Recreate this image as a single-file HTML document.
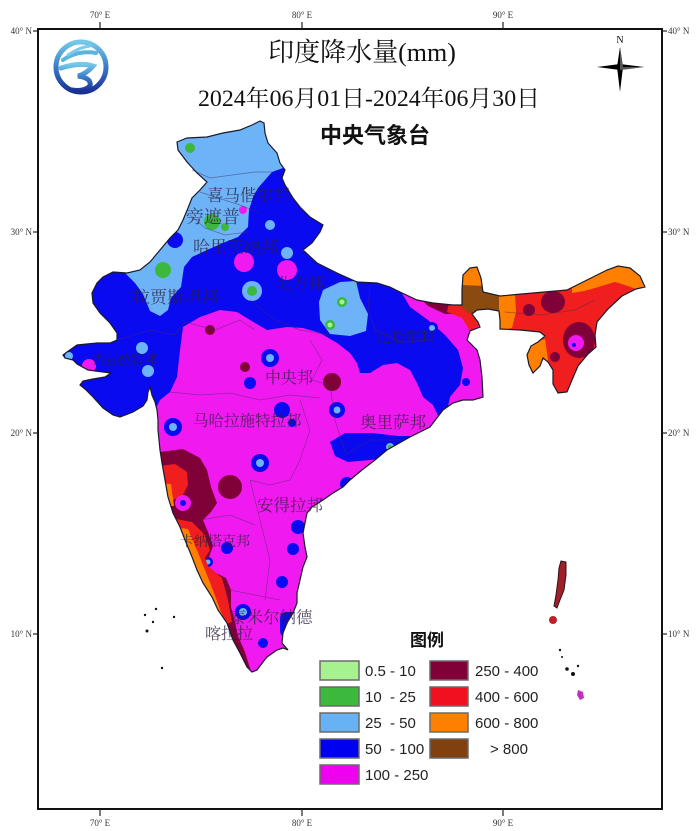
<!DOCTYPE html>
<html>
<head>
<meta charset="utf-8">
<style>
html,body{margin:0;padding:0;background:#fff;}
svg{display:block;}
.tk{font-family:"Liberation Serif","DejaVu Serif",serif;font-size:9px;fill:#333;}
.lb{font-family:"Liberation Serif","Noto Serif CJK SC",serif;fill:#2d1f3d;opacity:0.8;}
.lg{font-family:"Liberation Sans",sans-serif;font-size:15px;fill:#222;white-space:pre;}
</style>
</head>
<body>
<svg width="700" height="831" viewBox="0 0 700 831" xmlns="http://www.w3.org/2000/svg">
<defs>
<linearGradient id="lgLogo" x1="0" y1="0" x2="0" y2="1">
<stop offset="0" stop-color="#74c8e8"/>
<stop offset="0.5" stop-color="#3a7cc8"/>
<stop offset="1" stop-color="#1a2f94"/>
</linearGradient>
<clipPath id="india">
<path id="indiaPath" d="M177,142 L187,138 L207,137 L223,133 L240,130 L252,125 L260,121 L264,123 L265,133 L268,143 L277,153 L280,163 L285,170 L282,178 L285,185 L293,198 L300,207 L310,217 L323,225 L320,232 L312,243 L303,250 L317,263 L337,273 L357,282 L377,283 L390,287 L400,292 L417,300 L433,303 L453,305 L462,305 L462,290 L463,275 L470,268 L477,267 L481,278 L483,292 L500,296 L533,293 L567,290 L587,280 L607,270 L618,266 L630,268 L640,276 L645,287 L636,289 L622,296 L608,309 L597,322 L595,335 L596,347 L588,354 L578,366 L572,380 L567,392 L558,393 L553,384 L553,370 L548,362 L543,358 L540,366 L533,373 L529,365 L527,355 L531,346 L538,342 L545,336 L540,332 L520,330 L500,329 L500,320 L499,311 L488,309 L477,310 L472,314 L478,322 L480,327 L470,331 L467,340 L477,350 L480,360 L482,377 L483,397 L473,400 L463,400 L453,403 L443,410 L430,427 L410,437 L387,450 L375,460 L362,470 L350,480 L343,487 L333,493 L323,500 L312,507 L307,513 L305,523 L303,533 L305,547 L307,557 L303,567 L300,580 L297,593 L297,603 L293,613 L287,623 L283,633 L282,643 L288,650 L283,648 L277,650 L267,657 L263,662 L257,670 L252,672 L247,667 L240,653 L233,640 L227,623 L218,610 L212,597 L203,583 L197,570 L192,557 L185,540 L180,527 L173,513 L168,497 L165,480 L162,463 L160,450 L159,440 L158,430 L158,420 L157,410 L155,402 L152,395 L150,387 L148,392 L147,400 L143,406 L133,412 L120,417 L113,415 L103,408 L93,397 L85,389 L80,385 L83,381 L93,379 L105,377 L111,373 L103,372 L88,370 L77,364 L73,360 L65,358 L63,355 L67,352 L77,345 L97,343 L110,343 L117,340 L117,333 L110,323 L100,313 L93,303 L92,293 L97,283 L103,277 L113,272 L127,273 L140,270 L150,262 L160,250 L170,238 L178,230 L183,220 L188,208 L192,198 L200,190 L207,182 L197,173 L187,162 L178,150 Z"/>
</clipPath>
</defs>

<!-- frame -->
<rect x="38" y="29" width="624" height="780" fill="#fff" stroke="#111" stroke-width="2"/>

<!-- ticks -->
<g stroke="#222" stroke-width="1.2">
<line x1="100" y1="22" x2="100" y2="29"/><line x1="302" y1="22" x2="302" y2="29"/><line x1="503" y1="22" x2="503" y2="29"/>
<line x1="100" y1="809" x2="100" y2="816"/><line x1="302" y1="809" x2="302" y2="816"/><line x1="503" y1="809" x2="503" y2="816"/>
<line x1="33" y1="31" x2="38" y2="31"/><line x1="33" y1="232" x2="38" y2="232"/><line x1="33" y1="433" x2="38" y2="433"/><line x1="33" y1="634" x2="38" y2="634"/>
<line x1="662" y1="31" x2="667" y2="31"/><line x1="662" y1="232" x2="667" y2="232"/><line x1="662" y1="433" x2="667" y2="433"/><line x1="662" y1="634" x2="667" y2="634"/>
</g>
<g class="tk">
<text x="100" y="18" text-anchor="middle">70° E</text>
<text x="302" y="18" text-anchor="middle">80° E</text>
<text x="503" y="18" text-anchor="middle">90° E</text>
<text x="100" y="826" text-anchor="middle">70° E</text>
<text x="302" y="826" text-anchor="middle">80° E</text>
<text x="503" y="826" text-anchor="middle">90° E</text>
<text x="32" y="34" text-anchor="end">40° N</text>
<text x="32" y="235" text-anchor="end">30° N</text>
<text x="32" y="436" text-anchor="end">20° N</text>
<text x="32" y="637" text-anchor="end">10° N</text>
<text x="668" y="34">40° N</text>
<text x="668" y="235">30° N</text>
<text x="668" y="436">20° N</text>
<text x="668" y="637">10° N</text>
</g>

<!-- logo -->
<g>
<circle cx="81" cy="67" r="25" fill="none" stroke="url(#lgLogo)" stroke-width="5"/>
<path d="M63,60 Q78,50 96,53" fill="none" stroke="#5ab4e0" stroke-width="4" stroke-linecap="round"/>
<path d="M68,55 Q80,47 90,46" fill="none" stroke="#7ccbe8" stroke-width="3" stroke-linecap="round"/>
<path d="M61,68 Q80,62 93,66 Q86,74 78,76 Q92,78 90,86 Q84,92 72,90" fill="none" stroke="url(#lgLogo)" stroke-width="5" stroke-linecap="round"/>
</g>

<!-- titles -->
<text x="362" y="61" text-anchor="middle" font-family="'Liberation Serif','Noto Serif CJK SC',serif" font-size="26" fill="#111">印度降水量(mm)</text>
<text x="198" y="106" textLength="342" lengthAdjust="spacingAndGlyphs" font-family="'Liberation Serif','Noto Serif CJK SC',serif" font-size="23" fill="#111">2024年06月01日-2024年06月30日</text>
<text x="375" y="143" text-anchor="middle" font-family="'Liberation Sans','Noto Sans CJK SC',sans-serif" font-size="22" font-weight="bold" fill="#111">中央气象台</text>

<!-- north arrow -->
<text x="620" y="43" text-anchor="middle" font-family="'Liberation Serif',serif" font-size="10" fill="#111">N</text>
<path d="M620,47 L623,67 L620,92 L617,67 Z" fill="#000"/>
<path d="M597,67 L620,64 L644,67 L620,70 Z" fill="#000"/>
<path d="M620,47 L623,67 L620,67 Z M644,67 L620,70 L620,67 Z" fill="#555"/>

<!-- map fills -->
<g clip-path="url(#india)">
<rect x="40" y="100" width="620" height="600" fill="#f01af0"/>
<!-- north blue -->
<path d="M0,0 L400,0 L400,290 L410,307 L428,320 L445,335 L458,350 L463,368 L460,385 L450,397 L445,420 L440,420 L433,405 L423,397 L417,383 L410,370 L397,363 L383,365 L370,373 L360,373 L357,363 L350,353 L337,343 L320,333 L303,328 L287,327 L267,330 L250,320 L237,312 L220,310 L200,317 L183,327 L180,350 L177,377 L170,392 L160,400 L150,420 L0,420 Z" fill="#0a0af0"/>
<!-- light blue north -->
<path d="M150,100 L290,100 L290,163 L283,168 L272,172 L265,180 L258,188 L253,197 L249,210 L248,227 L238,237 L223,243 L207,250 L192,257 L184,267 L181,287 L171,298 L168,310 L160,316 L150,311 L143,294 L135,283 L128,276 L120,268 L100,250 L100,100 Z" fill="#6db3f8"/>
<circle cx="175" cy="240" r="8" fill="#0a0af0"/>
<circle cx="190" cy="148" r="5" fill="#3cb83c"/>
<circle cx="212" cy="222" r="8" fill="#3cb83c"/>
<circle cx="225" cy="227" r="4" fill="#3cb83c"/>
<circle cx="163" cy="270" r="8" fill="#3cb83c"/>
<circle cx="243" cy="210" r="4" fill="#f01af0"/>
<!-- blobs in north blue -->
<circle cx="244" cy="262" r="10" fill="#f01af0"/>
<circle cx="287" cy="270" r="10" fill="#f01af0"/>
<circle cx="252" cy="291" r="10" fill="#6db3f8"/><circle cx="252" cy="291" r="5" fill="#3cb83c"/>
<circle cx="270" cy="225" r="5" fill="#6db3f8"/>
<circle cx="287" cy="253" r="6" fill="#6db3f8"/>
<circle cx="142" cy="348" r="6" fill="#6db3f8"/>
<circle cx="148" cy="371" r="6" fill="#6db3f8"/>
<circle cx="89" cy="366" r="7" fill="#f01af0"/>
<circle cx="69" cy="356" r="4" fill="#6db3f8"/>
<!-- UP light-blue blob -->
<path d="M323,290 L340,282 L356,281 L360,298 L368,314 L366,331 L350,336 L330,334 L320,320 L319,302 Z" fill="#6db3f8"/>
<circle cx="342" cy="302" r="5" fill="#3cb83c"/><circle cx="342" cy="302" r="2.5" fill="#a6f28f"/>
<circle cx="330" cy="325" r="5" fill="#3cb83c"/><circle cx="330" cy="325" r="2.5" fill="#a6f28f"/>
<circle cx="432" cy="328" r="6" fill="#0a0af0"/><circle cx="432" cy="328" r="3" fill="#6db3f8"/>
<!-- WB north strip -->
<path d="M418,296 L450,300 L460,304 L462,314 L445,314 L428,306 Z" fill="#800038"/>
<path d="M450,299 L466,303 L480,325 L470,331 L462,318 L447,312 Z" fill="#f01e1e"/>
<circle cx="466" cy="382" r="4" fill="#0a0af0"/>
<!-- blobs in magenta -->
<circle cx="270" cy="358" r="9" fill="#0a0af0"/><circle cx="270" cy="358" r="4" fill="#6db3f8"/>
<circle cx="250" cy="383" r="6" fill="#0a0af0"/>
<circle cx="245" cy="367" r="5" fill="#800038"/>
<circle cx="210" cy="330" r="5" fill="#800038"/>
<circle cx="332" cy="382" r="9" fill="#800038"/>
<circle cx="337" cy="410" r="8" fill="#0a0af0"/><circle cx="337" cy="410" r="3.5" fill="#6db3f8"/>
<circle cx="282" cy="410" r="8" fill="#0a0af0"/>
<circle cx="292" cy="423" r="4" fill="#0a0af0"/>
<circle cx="173" cy="427" r="9" fill="#0a0af0"/><circle cx="173" cy="427" r="4" fill="#6db3f8"/>
<path d="M330,442 L345,433 L372,433 L398,436 L412,436 L405,448 L392,457 L370,460 L348,462 L335,456 Z" fill="#0a0af0"/>
<circle cx="390" cy="447" r="4" fill="#6db3f8"/><circle cx="390" cy="447" r="2" fill="#3cb83c"/>
<circle cx="260" cy="463" r="9" fill="#0a0af0"/><circle cx="260" cy="463" r="4" fill="#6db3f8"/>
<circle cx="347" cy="484" r="7" fill="#0a0af0"/>
<circle cx="298" cy="527" r="7" fill="#0a0af0"/>
<circle cx="293" cy="549" r="6" fill="#0a0af0"/>
<circle cx="227" cy="548" r="6" fill="#0a0af0"/>
<circle cx="208" cy="562" r="5" fill="#0a0af0"/><circle cx="208" cy="562" r="2.5" fill="#6db3f8"/>
<circle cx="282" cy="582" r="6" fill="#0a0af0"/>
<circle cx="243" cy="612" r="8" fill="#0a0af0"/><circle cx="243" cy="612" r="4" fill="#6db3f8"/>
<rect x="280" y="612" width="22" height="25" rx="6" fill="#0a0af0"/>
<circle cx="263" cy="643" r="5" fill="#0a0af0"/>
<!-- west coast -->
<path d="M140,450 L160,452 L183,449 L200,458 L207,470 L211,487 L217,503 L211,512 L203,520 L208,532 L213,546 L209,557 L202,563 L214,572 L226,578 L231,590 L231,607 L235,622 L238,636 L245,652 L252,675 L230,680 L140,680 Z" fill="#800038"/>
<circle cx="230" cy="487" r="12" fill="#800038"/>
<path d="M160,466 L175,464 L187,472 L188,485 L182,497 L172,500 L160,498 Z" fill="#f01e1e"/>
<path d="M158,483 L171,484 L174,506 L158,506 Z" fill="#ff8000"/>
<path d="M176,519 L192,522 L205,535 L210,550 L205,558 L208,566 L222,578 L228,600 L232,622 L226,624 L215,605 L200,580 L188,552 Z" fill="#f01e1e"/>
<path d="M180,528 L188,529 L199,555 L211,585 L221,612 L229,628 L221,628 L206,596 L195,569 L184,545 Z" fill="#ff8000"/>
<circle cx="183" cy="503" r="8" fill="#f01af0"/><circle cx="183" cy="503" r="3" fill="#0a0af0"/>
<!-- NE -->
<rect x="483" y="255" width="180" height="150" fill="#f01e1e"/>
<path d="M455,262 L486,262 L486,288 L470,290 L455,288 Z" fill="#ff8000"/>
<path d="M462,285 L486,286 L500,294 L501,313 L485,313 L468,313 L460,305 Z" fill="#8a4a10"/>
<path d="M499,295 L515,295 L516,312 L512,328 L499,331 Z" fill="#ff8000"/>
<path d="M572,284 L590,275 L607,266 L618,263 L632,266 L643,274 L648,290 L636,289 L625,285 L615,282 L605,285 L595,288 L584,291 L572,293 Z" fill="#ff8000"/>
<path d="M524,345 L545,339 L548,360 L535,374 L526,362 Z" fill="#ff8000"/>
<ellipse cx="553" cy="302" rx="12" ry="11" fill="#800038"/>
<circle cx="529" cy="310" r="6" fill="#800038"/>
<ellipse cx="579" cy="340" rx="16" ry="18" fill="#800038"/>
<circle cx="576" cy="343" r="8" fill="#f01af0"/><circle cx="574" cy="345" r="2" fill="#0a0af0"/>
<circle cx="555" cy="357" r="5" fill="#800038"/>
</g>

<!-- state boundaries -->
<g fill="none" stroke="#4a2a5a" stroke-width="0.7" opacity="0.55">
<polyline points="192,170 210,178 232,175 255,172 272,172"/>
<polyline points="200,192 215,197 240,205 258,212"/>
<polyline points="190,215 205,228 225,235 248,232"/>
<polyline points="117,340 150,330 175,335 185,322"/>
<polyline points="185,322 215,330 240,320 255,330"/>
<polyline points="250,300 275,320 300,330 330,335"/>
<polyline points="370,285 368,310 375,330"/>
<polyline points="375,330 400,342 432,340"/>
<polyline points="310,340 322,360 312,380 330,385 335,420 345,452"/>
<polyline points="170,392 200,395 230,393 260,400 290,395 320,398"/>
<polyline points="300,400 310,430 300,460 290,480 270,485 250,480"/>
<polyline points="250,480 260,520 270,560 265,600"/>
<polyline points="345,455 370,440 400,440"/>
<polyline points="200,520 230,515 255,525"/>
<polyline points="230,590 255,595 280,600"/>
<polyline points="505,312 540,315 575,310 595,300"/>
</g>

<!-- outline -->
<use href="#indiaPath" fill="none" stroke="#1a1a2a" stroke-width="1.2"/>

<!-- state labels -->
<g class="lb">
<text x="207" y="201" font-size="16.5">喜马偕尔邦</text>
<text x="186" y="223" font-size="18">旁遮普</text>
<text x="193" y="253" font-size="17">哈里亚纳邦</text>
<text x="133" y="303" font-size="17">拉贾斯坦邦</text>
<text x="276" y="289" font-size="16">北方邦</text>
<text x="375" y="342" font-size="15">比哈尔邦</text>
<text x="92" y="364" font-size="13">古吉拉特邦</text>
<text x="265" y="383" font-size="16">中央邦</text>
<text x="193" y="426" font-size="15.5">马哈拉施特拉邦</text>
<text x="360" y="428" font-size="16.5">奥里萨邦</text>
<text x="257" y="511" font-size="16.5">安得拉邦</text>
<text x="180" y="546" font-size="14">卡纳塔克邦</text>
<text x="230" y="623" font-size="16.5">泰米尔纳德</text>
<text x="205" y="639" font-size="16">喀拉拉</text>
</g>

<!-- islands -->
<g fill="#111">
<circle cx="145" cy="615" r="1.2"/><circle cx="156" cy="609" r="1.2"/><circle cx="153" cy="622" r="1.2"/>
<circle cx="174" cy="617" r="1.2"/><circle cx="147" cy="631" r="1.5"/><circle cx="162" cy="668" r="1.2"/>
<circle cx="560" cy="650" r="1.2"/><circle cx="562" cy="657" r="1"/><circle cx="567" cy="669" r="1.8"/>
<circle cx="573" cy="674" r="2"/><circle cx="578" cy="666" r="1.2"/>
</g>
<path d="M561,561 L566,562 L566,575 L564,590 L560,600 L557,608 L554,606 L556,595 L558,580 L559,568 Z" fill="#a0202a" stroke="#301018" stroke-width="1"/>
<circle cx="553" cy="620" r="4" fill="#c0202a"/>
<path d="M578,690 L583,692 L584,698 L580,700 L577,695 Z" fill="#c030c0"/>

<!-- legend -->
<text x="427" y="646" text-anchor="middle" font-family="'Liberation Sans','Noto Sans CJK SC',sans-serif" font-size="17" font-weight="bold" fill="#111">图例</text>
<g stroke="#6a6a6a" stroke-width="1.5">
<rect x="320" y="661" width="39" height="19" fill="#a6f28f"/>
<rect x="320" y="687" width="39" height="19" fill="#3cb83c"/>
<rect x="320" y="713" width="39" height="19" fill="#66b2f5"/>
<rect x="320" y="739" width="39" height="19" fill="#0000f0"/>
<rect x="320" y="765" width="39" height="19" fill="#f000f0"/>
<rect x="430" y="661" width="38" height="19" fill="#800038"/>
<rect x="430" y="687" width="38" height="19" fill="#f01020"/>
<rect x="430" y="713" width="38" height="19" fill="#ff8000"/>
<rect x="430" y="739" width="38" height="19" fill="#804010"/>
</g>
<g class="lg">
<text x="365" y="676" xml:space="preserve">0.5 - 10</text>
<text x="365" y="702" xml:space="preserve">10  - 25</text>
<text x="365" y="728" xml:space="preserve">25  - 50</text>
<text x="365" y="754" xml:space="preserve">50  - 100</text>
<text x="365" y="780" xml:space="preserve">100 - 250</text>
<text x="475" y="676" xml:space="preserve">250 - 400</text>
<text x="475" y="702" xml:space="preserve">400 - 600</text>
<text x="475" y="728" xml:space="preserve">600 - 800</text>
<text x="490" y="754" xml:space="preserve">&gt; 800</text>
</g>
</svg>
</body>
</html>
